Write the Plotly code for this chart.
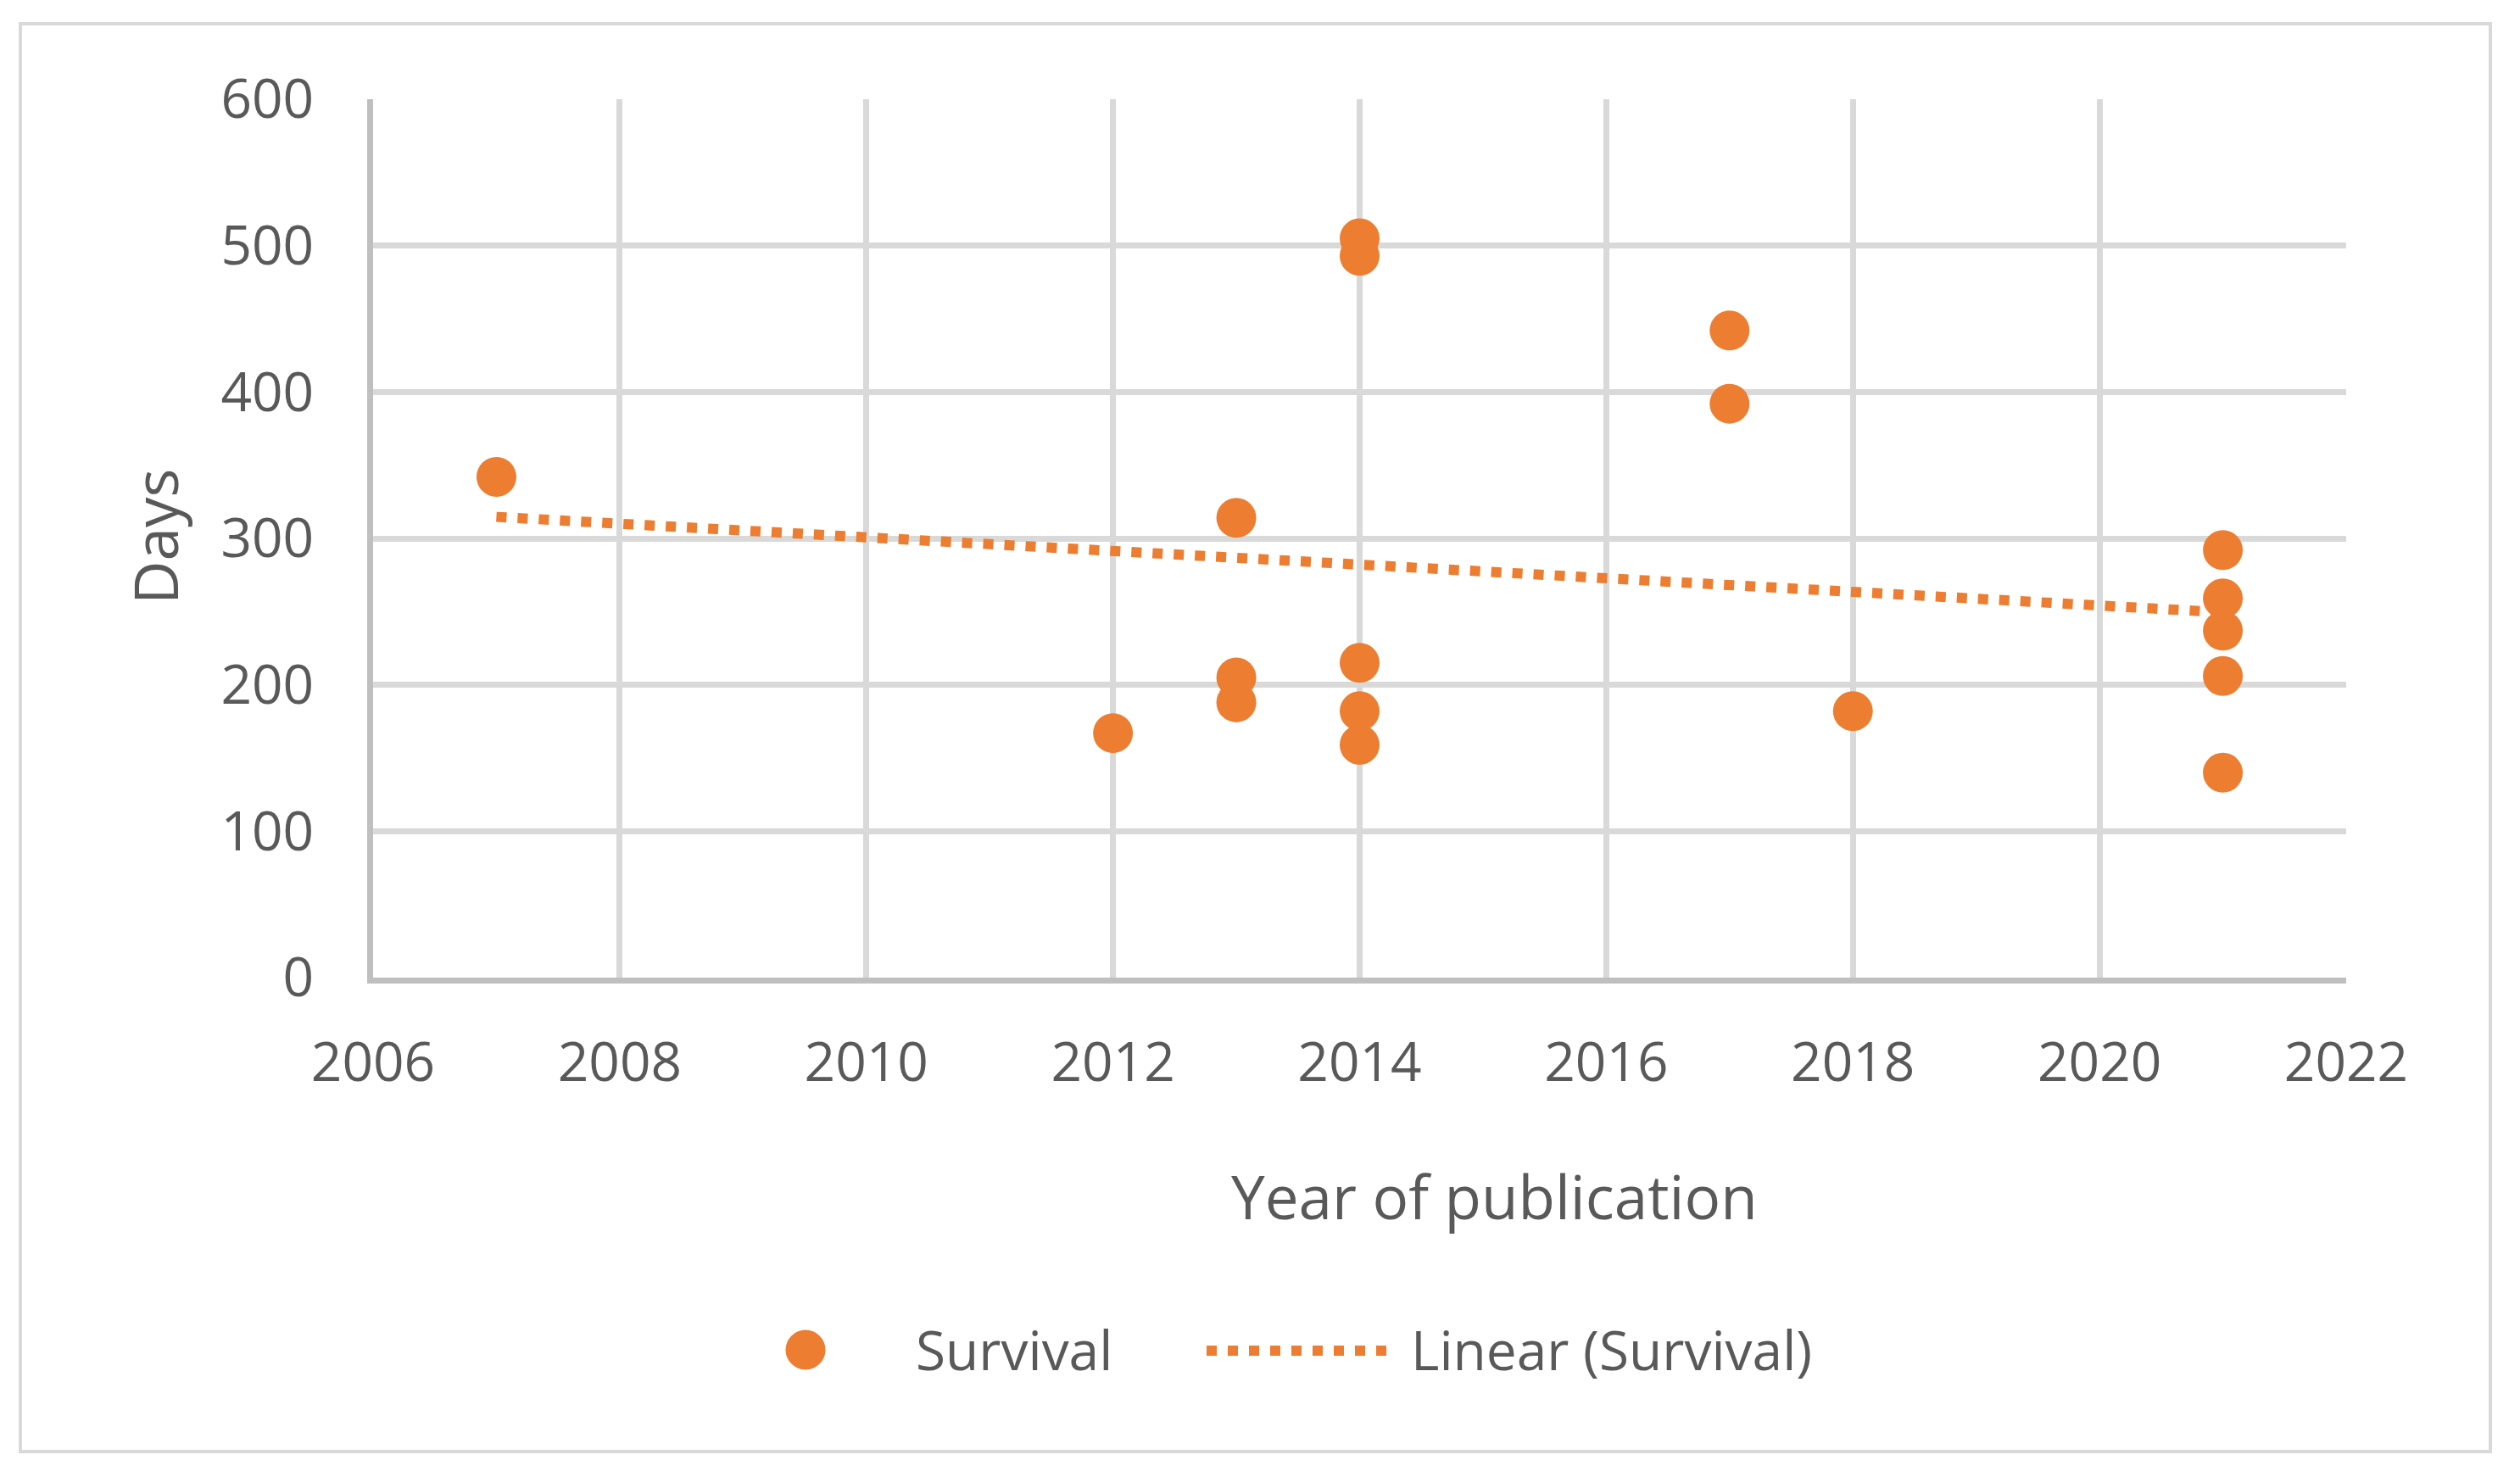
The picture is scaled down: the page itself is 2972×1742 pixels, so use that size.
import plotly.graph_objects as go

# ---- data ----
years = [2007, 2012, 2013, 2013, 2013, 2014, 2014, 2014, 2014, 2014,
         2017, 2017, 2018, 2021, 2021, 2021, 2021, 2021]
days = [342, 167, 314, 205, 188, 505, 493, 215, 182, 159,
        442, 392, 182, 292, 259, 237, 206, 140]
trend_years = [2007, 2021]
trend_days = [314.7, 249.5]
x_ticks = [2006, 2008, 2010, 2012, 2014, 2016, 2018, 2020, 2022]
y_ticks = [0, 100, 200, 300, 400, 500, 600]
series_names = ["Survival", "Linear (Survival)"]

ORANGE = "#ED7D31"
TEXT = "#595959"
GRID = "#D9D9D9"
AXIS = "#BFBFBF"
FONT = "Open Sans"

W, H = 2972, 1742          # window size
OFF = 8                     # default page body margin
Wf, Hf = W - 2 * OFF, H - 2 * OFF
L, R, T, B = 440, 2767, 117, 1153   # plot area in window pixels
pw, ph = R - L, B - T

def px(x):
    return (x - L) / pw

def py(y):
    return (B - y) / ph

fig = go.Figure()
fig.add_trace(go.Scatter(
    x=years, y=days, mode="markers", name=series_names[0],
    marker=dict(size=47, color=ORANGE, line=dict(width=0)),
    showlegend=False,
))
fig.add_trace(go.Scatter(
    x=trend_years, y=trend_days, mode="lines", name=series_names[1],
    line=dict(color=ORANGE, width=12, dash="12px,13px"),
    showlegend=False,
))

leg_y = py(1591)
r_px = 23.5
shapes = [
    # chart border
    dict(type="rect", xref="paper", yref="paper",
         x0=px(24), x1=px(2937), y0=py(1712), y1=py(28),
         line=dict(color=GRID, width=4), fillcolor="rgba(0,0,0,0)", layer="below"),
    # legend key: marker
    dict(type="circle", xref="paper", yref="paper",
         x0=px(950 - r_px), x1=px(950 + r_px), y0=py(1592 + r_px), y1=py(1592 - r_px),
         line=dict(width=0), fillcolor=ORANGE),
    # legend key: dotted line
    dict(type="line", xref="paper", yref="paper",
         x0=px(1423), x1=px(1640), y0=py(1593), y1=py(1593),
         line=dict(color=ORANGE, width=12, dash="12px,13px")),
]

annotations = [
    dict(text="Days", xref="paper", yref="paper", x=px(182), y=py(633),
         xanchor="center", yanchor="middle", textangle=-90, showarrow=False,
         font=dict(size=71, color=TEXT, family=FONT)),
    dict(text="Year of publication", xref="paper", yref="paper", x=px(1762), y=py(1410),
         xanchor="center", yanchor="middle", showarrow=False,
         font=dict(size=71, color=TEXT, family=FONT)),
    dict(text=series_names[0], xref="paper", yref="paper", x=px(1078), y=leg_y,
         xanchor="left", yanchor="middle", showarrow=False,
         font=dict(size=64, color=TEXT, family=FONT)),
    dict(text=series_names[1], xref="paper", yref="paper", x=px(1662), y=leg_y,
         xanchor="left", yanchor="middle", showarrow=False,
         font=dict(size=64, color=TEXT, family=FONT)),
]

fig.update_layout(
    width=Wf, height=Hf,
    margin=dict(l=L - OFF, r=Wf - (R - OFF), t=T - OFF, b=Hf - (B - OFF)),
    paper_bgcolor="white", plot_bgcolor="white",
    font=dict(family=FONT, color=TEXT, size=64),
    showlegend=False,
    xaxis=dict(
        range=[2006, 2022], tickvals=x_ticks, ticktext=[str(v) for v in x_ticks],
        showgrid=True, gridcolor=GRID, gridwidth=7,
        showline=True, linecolor=AXIS, linewidth=7,
        zeroline=False, ticks="", ticklabelstandoff=38,
        tickfont=dict(size=64, color=TEXT, family=FONT),
    ),
    yaxis=dict(
        range=[0, 600], tickvals=y_ticks, ticktext=[str(v) for v in y_ticks],
        showgrid=True, gridcolor=GRID, gridwidth=7,
        showline=True, linecolor=AXIS, linewidth=7,
        zeroline=False, ticks="", ticklabelstandoff=50,
        tickfont=dict(size=64, color=TEXT, family=FONT),
    ),
    annotations=annotations,
    shapes=shapes,
)

fig.write_html("out.html")
